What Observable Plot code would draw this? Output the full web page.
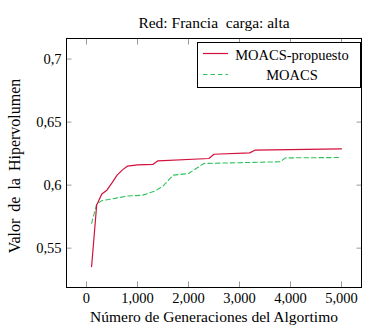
<!DOCTYPE html>
<html>
<head>
<meta charset="utf-8">
<script src="https://cdn.jsdelivr.net/npm/d3@7"></script>
<script src="https://cdn.jsdelivr.net/npm/@observablehq/plot@0.6"></script>
<style>
  html, body { margin: 0; padding: 0; background: #fff; }
  #chart { position: relative; width: 365px; height: 335px; }
  #chart svg text { font-family: 'Liberation Serif', serif; }
  #lgd { position: absolute; left: 0; top: 0; pointer-events: none; }
</style>
</head>
<body>
<div id="chart"></div>
<script>
const title = "Red: Francia  carga: alta";
const xLabel = "Número de Generaciones del Algortimo";
const yLabel = "Valor de la Hipervolumen";
const seriesNames = ["MOACS-propuesto", "MOACS"];
const seriesColors = ["#d3103b", "#2cc45a"];

const propX = [100, 200, 300, 400, 500, 600, 700, 800, 1000, 1300, 1400, 2400, 2500, 3200, 3300, 5000];
const propY = [0.5354, 0.5842, 0.5929, 0.5960, 0.6018, 0.6079, 0.6119, 0.6150, 0.6161, 0.6164, 0.6193, 0.6211, 0.6245, 0.6256, 0.6277, 0.6288];

const moacsX = [100, 200, 300, 800, 1100, 1350, 1500, 1700, 2000, 2200, 2300, 3800, 3900, 5000];
const moacsY = [0.5697, 0.5850, 0.5876, 0.5913, 0.5920, 0.5955, 0.5992, 0.6079, 0.6092, 0.6145, 0.6172, 0.6185, 0.6216, 0.6219];

const xTicks = [0, 1000, 2000, 3000, 4000, 5000];
const yTicks = [0.55, 0.6, 0.65, 0.7];

const data = [
  ...propX.map((x, i) => ({x, y: propY[i], s: seriesNames[0]})),
  ...moacsX.map((x, i) => ({x, y: moacsY[i], s: seriesNames[1]}))
];

const fmtY = d => String(d).replace(".", ",");
const fmtX = d3.format(",");
const FONT = "Liberation Serif";
const TICK = "#999";

const plot = Plot.plot({
  width: 365,
  height: 335,
  marginLeft: 66,
  marginRight: 4,
  marginTop: 38,
  marginBottom: 48,
  style: { fontFamily: FONT, fontSize: "14.5px", color: "#000", background: "#fff" },
  x: { domain: [-392, 5392] },
  y: { domain: [0.5188, 0.7163] },
  color: { domain: seriesNames, range: seriesColors },
  marks: [
    Plot.axisX({ ticks: xTicks, tickFormat: fmtX, tickSize: 0, tickPadding: 5.5, label: null, fontFamily: FONT, fontSize: 14.5, fontVariant: "normal" }),
    Plot.axisX({ ticks: xTicks, tickSize: -5.5, anchor: "bottom", stroke: TICK, label: null, text: null }),
    Plot.axisX({ ticks: xTicks, tickSize: -5.5, anchor: "top", stroke: TICK, label: null, text: null }),
    Plot.axisY({ ticks: yTicks, tickFormat: fmtY, tickSize: 0, tickPadding: 5, label: null, fontFamily: FONT, fontSize: 14.5, fontVariant: "normal" }),
    Plot.axisY({ ticks: yTicks, tickSize: -5.5, anchor: "left", stroke: TICK, label: null, text: null }),
    Plot.axisY({ ticks: yTicks, tickSize: -5.5, anchor: "right", stroke: TICK, label: null, text: null }),
    Plot.line(data.filter(d => d.s === seriesNames[1]), { x: "x", y: "y", stroke: "s", strokeWidth: 1.1, strokeDasharray: "4.5,3" }),
    Plot.line(data.filter(d => d.s === seriesNames[0]), { x: "x", y: "y", stroke: "s", strokeWidth: 1.2 }),
    Plot.frame({ stroke: "#000", strokeWidth: 1 }),
    Plot.text([title], { frameAnchor: "top", dy: -22, fontSize: 15.5, fill: "#000", fontFamily: FONT }),
    Plot.text([xLabel], { frameAnchor: "bottom", dy: 34, fontSize: 15.5, fill: "#000", fontFamily: FONT }),
    Plot.text([yLabel], { frameAnchor: "left", textAnchor: "middle", dx: -52, dy: 3, rotate: -90, fontSize: 16, fill: "#000", fontFamily: FONT, className: "ylab" })
  ]
});

const chart = document.getElementById("chart");
chart.appendChild(plot);
plot.querySelectorAll(".ylab text").forEach(t => t.style.wordSpacing = "3px");

// legend (pgfplots-style box, top right inside axes)
const ns = "http://www.w3.org/2000/svg";
const lg = document.createElementNS(ns, "svg");
lg.setAttribute("id", "lgd");
lg.setAttribute("width", 365);
lg.setAttribute("height", 335);
const box = document.createElementNS(ns, "rect");
box.setAttribute("x", 197.5); box.setAttribute("y", 42.5);
box.setAttribute("width", 163); box.setAttribute("height", 45);
box.setAttribute("fill", "#fff"); box.setAttribute("stroke", "#000"); box.setAttribute("stroke-width", 1);
lg.appendChild(box);
const rows = [{ly: 53.5, ty: 60}, {ly: 74.5, ty: 79.5}];
seriesNames.forEach((name, i) => {
  const ln = document.createElementNS(ns, "line");
  ln.setAttribute("x1", 203); ln.setAttribute("x2", 228);
  ln.setAttribute("y1", rows[i].ly); ln.setAttribute("y2", rows[i].ly);
  ln.setAttribute("stroke", seriesColors[i]); ln.setAttribute("stroke-width", 1.2);
  if (i === 1) ln.setAttribute("stroke-dasharray", "4.5,3");
  lg.appendChild(ln);
  const tx = document.createElementNS(ns, "text");
  tx.setAttribute("x", 292); tx.setAttribute("y", rows[i].ty);
  tx.setAttribute("text-anchor", "middle");
  tx.setAttribute("font-family", FONT); tx.setAttribute("font-size", 14.5);
  tx.setAttribute("fill", "#000");
  tx.textContent = name;
  lg.appendChild(tx);
});
chart.appendChild(lg);
</script>
</body>
</html>
